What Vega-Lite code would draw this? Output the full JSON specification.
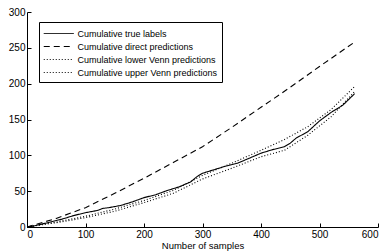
{
  "$schema": "https://vega.github.io/schema/vega-lite/v6.json",
  "autosize": "none",
  "width": 351,
  "height": 215,
  "padding": {"left": 27, "top": 12, "right": 7, "bottom": 25},
  "background": "white",
  "config": {
    "view": {"stroke": null},
    "font": "Liberation Sans",
    "axis": {"grid": false, "domainColor": "black", "tickColor": "black", "labelColor": "black", "labelFont": "Liberation Sans", "labelFontSize": 10, "titleFont": "Liberation Sans", "titleFontSize": 9.5, "titleFontWeight": "normal", "titleColor": "black", "tickSize": -4, "domainWidth": 1, "tickWidth": 1}
  },
  "data": {"values": [
    {"n": 0, "v": 0, "s": "Cumulative true labels"},
    {"n": 10, "v": 1, "s": "Cumulative true labels"},
    {"n": 20, "v": 3, "s": "Cumulative true labels"},
    {"n": 40, "v": 7, "s": "Cumulative true labels"},
    {"n": 60, "v": 11, "s": "Cumulative true labels"},
    {"n": 80, "v": 16, "s": "Cumulative true labels"},
    {"n": 100, "v": 20, "s": "Cumulative true labels"},
    {"n": 120, "v": 23, "s": "Cumulative true labels"},
    {"n": 130, "v": 26, "s": "Cumulative true labels"},
    {"n": 140, "v": 27, "s": "Cumulative true labels"},
    {"n": 160, "v": 30, "s": "Cumulative true labels"},
    {"n": 180, "v": 35, "s": "Cumulative true labels"},
    {"n": 200, "v": 41, "s": "Cumulative true labels"},
    {"n": 220, "v": 45, "s": "Cumulative true labels"},
    {"n": 240, "v": 51, "s": "Cumulative true labels"},
    {"n": 260, "v": 56, "s": "Cumulative true labels"},
    {"n": 280, "v": 63, "s": "Cumulative true labels"},
    {"n": 290, "v": 70, "s": "Cumulative true labels"},
    {"n": 300, "v": 75, "s": "Cumulative true labels"},
    {"n": 320, "v": 80, "s": "Cumulative true labels"},
    {"n": 340, "v": 85, "s": "Cumulative true labels"},
    {"n": 360, "v": 89, "s": "Cumulative true labels"},
    {"n": 380, "v": 96, "s": "Cumulative true labels"},
    {"n": 400, "v": 103, "s": "Cumulative true labels"},
    {"n": 420, "v": 108, "s": "Cumulative true labels"},
    {"n": 440, "v": 112, "s": "Cumulative true labels"},
    {"n": 450, "v": 117, "s": "Cumulative true labels"},
    {"n": 460, "v": 124, "s": "Cumulative true labels"},
    {"n": 480, "v": 133, "s": "Cumulative true labels"},
    {"n": 500, "v": 148, "s": "Cumulative true labels"},
    {"n": 520, "v": 160, "s": "Cumulative true labels"},
    {"n": 540, "v": 170, "s": "Cumulative true labels"},
    {"n": 560, "v": 186, "s": "Cumulative true labels"},
    {"n": 0, "v": 0, "s": "Cumulative direct predictions"},
    {"n": 50, "v": 12, "s": "Cumulative direct predictions"},
    {"n": 100, "v": 27, "s": "Cumulative direct predictions"},
    {"n": 150, "v": 47, "s": "Cumulative direct predictions"},
    {"n": 200, "v": 68, "s": "Cumulative direct predictions"},
    {"n": 250, "v": 90, "s": "Cumulative direct predictions"},
    {"n": 300, "v": 112, "s": "Cumulative direct predictions"},
    {"n": 350, "v": 139, "s": "Cumulative direct predictions"},
    {"n": 400, "v": 167, "s": "Cumulative direct predictions"},
    {"n": 450, "v": 195, "s": "Cumulative direct predictions"},
    {"n": 500, "v": 224, "s": "Cumulative direct predictions"},
    {"n": 560, "v": 258, "s": "Cumulative direct predictions"},
    {"n": 0, "v": 0, "s": "Cumulative lower Venn predictions"},
    {"n": 50, "v": 6, "s": "Cumulative lower Venn predictions"},
    {"n": 100, "v": 13, "s": "Cumulative lower Venn predictions"},
    {"n": 150, "v": 22, "s": "Cumulative lower Venn predictions"},
    {"n": 200, "v": 34, "s": "Cumulative lower Venn predictions"},
    {"n": 250, "v": 47, "s": "Cumulative lower Venn predictions"},
    {"n": 300, "v": 67, "s": "Cumulative lower Venn predictions"},
    {"n": 350, "v": 82, "s": "Cumulative lower Venn predictions"},
    {"n": 400, "v": 98, "s": "Cumulative lower Venn predictions"},
    {"n": 440, "v": 107, "s": "Cumulative lower Venn predictions"},
    {"n": 480, "v": 128, "s": "Cumulative lower Venn predictions"},
    {"n": 520, "v": 154, "s": "Cumulative lower Venn predictions"},
    {"n": 560, "v": 189, "s": "Cumulative lower Venn predictions"},
    {"n": 0, "v": 0, "s": "Cumulative upper Venn predictions"},
    {"n": 50, "v": 7, "s": "Cumulative upper Venn predictions"},
    {"n": 100, "v": 15, "s": "Cumulative upper Venn predictions"},
    {"n": 150, "v": 25, "s": "Cumulative upper Venn predictions"},
    {"n": 200, "v": 37, "s": "Cumulative upper Venn predictions"},
    {"n": 250, "v": 51, "s": "Cumulative upper Venn predictions"},
    {"n": 300, "v": 72, "s": "Cumulative upper Venn predictions"},
    {"n": 350, "v": 89, "s": "Cumulative upper Venn predictions"},
    {"n": 400, "v": 107, "s": "Cumulative upper Venn predictions"},
    {"n": 440, "v": 122, "s": "Cumulative upper Venn predictions"},
    {"n": 480, "v": 140, "s": "Cumulative upper Venn predictions"},
    {"n": 520, "v": 164, "s": "Cumulative upper Venn predictions"},
    {"n": 560, "v": 196, "s": "Cumulative upper Venn predictions"}
  ]},
  "mark": {"type": "line", "strokeWidth": 1.1, "color": "black"},
  "encoding": {
    "x": {"field": "n", "type": "quantitative", "scale": {"domain": [0, 600], "nice": false}, "axis": {"values": [0, 100, 200, 300, 400, 500, 600], "title": "Number of samples", "labelPadding": 6, "titlePadding": 1}},
    "y": {"field": "v", "type": "quantitative", "scale": {"domain": [0, 300], "nice": false}, "axis": {"values": [0, 50, 100, 150, 200, 250, 300], "title": null, "labelPadding": 6}},
    "strokeDash": {"field": "s", "type": "nominal", "scale": {"domain": ["Cumulative true labels", "Cumulative direct predictions", "Cumulative lower Venn predictions", "Cumulative upper Venn predictions"], "range": [[1, 0], [6, 4], [1, 2], [1, 2]]},
      "legend": {"title": null, "orient": "none", "legendX": 12, "legendY": 10, "strokeColor": "black", "fillColor": "white", "padding": 4, "labelFont": "Liberation Sans", "labelFontSize": 9, "labelColor": "black", "symbolType": "M-1,0H3.44", "symbolSize": 182, "symbolStrokeWidth": 1, "symbolStrokeColor": "black", "rowPadding": 0, "labelOffset": 19.5, "labelLimit": 200}}
  }
}
